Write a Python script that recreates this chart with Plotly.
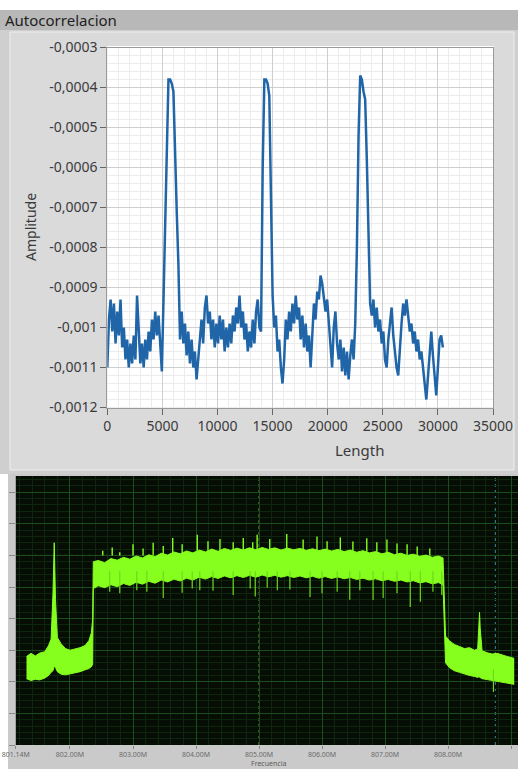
import plotly.graph_objects as go

W, H = 518, 769

# ---------------- Autocorrelation (top chart) ----------------
lag_step = 150  # sample spacing of the trace (Length units)
amplitude = [
    -0.00110, -0.00098, -0.00093, -0.00101, -0.00094, -0.00104, -0.00096, -0.00102, -0.00093, -0.00105,
    -0.00100, -0.00108, -0.00103, -0.00110, -0.00104, -0.00109, -0.00102, -0.00108, -0.00092, -0.00101,
    -0.00109, -0.00104, -0.00110, -0.00103, -0.00108, -0.00101, -0.00106, -0.00098, -0.00103, -0.00096,
    -0.00102, -0.00097, -0.00104, -0.00111,
    -0.00093, -0.00075, -0.00052, -0.00038, -0.00038, -0.00039, -0.00041, -0.00060, -0.00071, -0.00084, -0.00103,
    -0.00096, -0.00104, -0.00099, -0.00107, -0.00101, -0.00109, -0.00103, -0.00110, -0.00106, -0.00113, -0.00108, -0.00102,
    -0.00098, -0.00104, -0.00095, -0.00092, -0.00099, -0.00096, -0.00103, -0.00098, -0.00105,
    -0.00099, -0.00104, -0.00097, -0.00103, -0.00098, -0.00106, -0.00100, -0.00105, -0.00099, -0.00104, -0.00097,
    -0.00101, -0.00095, -0.00099, -0.00092, -0.00100, -0.00096, -0.00103,
    -0.00099, -0.00106, -0.00101, -0.00105, -0.00098, -0.00104, -0.00096,
    -0.00093, -0.00100, -0.00101,
    -0.00060, -0.00038, -0.00038, -0.00039, -0.00042, -0.00070, -0.00092,
    -0.00100, -0.00097, -0.00106, -0.00103, -0.00110, -0.00114, -0.00108, -0.00098,
    -0.00103, -0.00096, -0.00101, -0.00094, -0.00099, -0.00092, -0.00098,
    -0.00095, -0.00103, -0.00097, -0.00105, -0.00099, -0.00106, -0.00102, -0.00110,
    -0.00100, -0.00094, -0.00098, -0.00091, -0.00093, -0.00087, -0.00089, -0.00092, -0.00096, -0.00093, -0.00099,
    -0.00104, -0.00110, -0.00100,
    -0.00096, -0.00104, -0.00108, -0.00103, -0.00111, -0.00105, -0.00112, -0.00106, -0.00113, -0.00107, -0.00103,
    -0.00108, -0.00099, -0.00080, -0.00052, -0.00037, -0.00038, -0.00041, -0.00043, -0.00058, -0.00078, -0.00094,
    -0.00097, -0.00093, -0.00100, -0.00095, -0.00101,
    -0.00098, -0.00104, -0.00101, -0.00108, -0.00110,
    -0.00103, -0.00099, -0.00095, -0.00102,
    -0.00107, -0.00110, -0.00112, -0.00104,
    -0.00099, -0.00094, -0.00097, -0.00093, -0.00098,
    -0.00101, -0.00099, -0.00104, -0.00101, -0.00106, -0.00103, -0.00108,
    -0.00106, -0.00111, -0.00114, -0.00118, -0.00112,
    -0.00105, -0.00101, -0.00107,
    -0.00113, -0.00117, -0.00110,
    -0.00103, -0.00102, -0.00105,
]
lag = [i * lag_step for i in range(len(amplitude))]

acf_x_ticks = [0, 5000, 10000, 15000, 20000, 25000, 30000, 35000]
acf_x_labels = ["0", "5000", "10000", "15000", "20000", "25000", "30000", "35000"]
acf_y_ticks = [-0.0003, -0.0004, -0.0005, -0.0006, -0.0007, -0.0008, -0.0009, -0.0010, -0.0011, -0.0012]
acf_y_labels = ["-0,0003", "-0,0004", "-0,0005", "-0,0006", "-0,0007", "-0,0008", "-0,0009",
                "-0,001", "-0,0011", "-0,0012"]

# ---------------- Spectrum (bottom screen) ----------------
freq_mhz = [
    801.31, 801.38, 801.45, 801.52, 801.60, 801.66, 801.70, 801.73, 801.75, 801.77,
    801.80, 801.86, 801.93, 802.00, 802.08, 802.16, 802.24, 802.30, 802.34, 802.36,
    802.37, 802.45, 802.55, 802.65, 802.75, 802.85, 802.95, 803.05, 803.15, 803.25,
    803.35, 803.45, 803.55, 803.65, 803.75, 803.85, 803.95, 804.05, 804.15, 804.25,
    804.35, 804.45, 804.55, 804.65, 804.75, 804.85, 804.95, 805.05, 805.15, 805.25,
    805.35, 805.45, 805.55, 805.65, 805.75, 805.85, 805.95, 806.05, 806.15, 806.25,
    806.35, 806.45, 806.55, 806.65, 806.75, 806.85, 806.95, 807.05, 807.15, 807.25,
    807.35, 807.45, 807.55, 807.65, 807.75, 807.85, 807.92,
    807.94, 807.96, 808.02, 808.10, 808.18, 808.26, 808.34, 808.42, 808.47, 808.49,
    808.50, 808.51, 808.54, 808.62, 808.70, 808.78, 808.86, 808.94, 809.02, 809.05,
]
upper_db = [
    -82.0, -81.0, -81.8, -80.9, -80.5, -78.5, -76.5, -62.0, -46.0, -64.0,
    -76.0, -78.0, -79.5, -80.0, -79.6, -79.2, -78.5, -77.0, -74.5, -70.0,
    -52.0, -51.6, -52.3, -51.0, -51.5, -50.6, -51.2, -50.2, -50.8, -49.8,
    -50.4, -49.3, -49.9, -48.9, -49.5, -48.6, -49.2, -48.3, -48.9, -48.0,
    -48.7, -47.8, -48.4, -47.7, -48.3, -47.6, -48.2, -47.5, -48.1, -47.6,
    -48.3, -47.7, -48.2, -47.8, -48.4, -47.9, -48.5, -48.0, -48.6, -48.1,
    -48.8, -48.3, -49.0, -48.5, -49.2, -48.8, -49.5, -49.0, -49.8, -49.3,
    -50.0, -49.6, -50.3, -49.9, -50.6, -50.2, -50.8,
    -62.0, -75.5, -77.0, -78.2, -78.8, -79.5, -79.2, -80.0, -79.6, -72.0,
    -68.0, -73.0, -80.2, -80.8, -81.2, -81.0, -81.6, -82.0, -82.4, -82.6,
]
lower_db = [
    -89.0, -89.6, -89.2, -89.4, -88.8, -88.0, -87.0, -86.5, -85.0, -85.5,
    -86.8, -87.6, -87.8, -87.5, -87.0, -86.8, -86.2, -85.8, -85.2, -84.5,
    -60.5, -59.6, -60.2, -59.3, -59.9, -58.9, -59.5, -58.5, -59.1, -58.2,
    -58.8, -57.8, -58.4, -57.5, -58.1, -57.2, -57.8, -56.9, -57.5, -56.7,
    -57.3, -56.5, -57.1, -56.4, -57.0, -56.3, -56.9, -56.2, -56.8, -56.3,
    -56.9, -56.4, -57.0, -56.5, -57.1, -56.6, -57.2, -56.7, -57.3, -56.8,
    -57.4, -57.0, -57.6, -57.2, -57.8, -57.4, -58.0, -57.6, -58.2, -57.8,
    -58.4, -58.0, -58.7, -58.3, -59.0, -58.6, -59.3,
    -76.0, -84.0, -85.5, -86.5, -87.0, -87.6, -88.0, -88.3, -88.6, -88.4,
    -88.5, -88.6, -89.0, -89.3, -89.6, -89.9, -90.2, -90.4, -90.6, -90.8,
]
# short upward noise spikes on top of the occupied band
spike_freq = [802.52, 802.67, 802.79, 803.00, 803.16, 803.32, 803.48, 803.63, 803.78, 804.02,
              804.19, 804.38, 804.59, 804.75, 804.90, 804.97, 805.17, 805.44, 805.70, 805.92,
              806.08, 806.29, 806.49, 806.71, 806.87, 807.03, 807.19, 807.35, 807.51, 807.71]
spike_db = [-48.5, -47.5, -49.0, -46.5, -47.8, -46.0, -47.0, -44.5, -46.5, -43.5,
            -45.5, -44.8, -45.8, -44.5, -45.8, -43.5, -44.8, -43.2, -45.0, -44.0,
            -45.5, -44.3, -45.6, -44.6, -45.8, -45.0, -46.2, -46.5, -47.2, -47.8]
# downward dips
dip_freq = [802.63, 802.79, 803.06, 803.22, 803.48, 803.78, 803.94, 804.06, 804.27, 804.59,
            804.86, 804.94, 805.13, 805.29, 805.49, 805.81, 806.00, 806.24, 806.44, 806.60,
            806.81, 806.97, 807.19, 807.40, 807.56, 807.76, 807.90, 808.72]
dip_from_db = [-55.0] * 27 + [-86.0]
dip_db = [-61.5, -62.0, -61.0, -61.5, -63.5, -61.8, -60.5, -61.0, -61.2, -62.5,
          -60.5, -63.0, -60.2, -61.0, -60.8, -63.2, -62.0, -61.5, -64.0, -61.0,
          -64.1, -63.5, -62.0, -66.3, -64.7, -61.5, -62.5, -93.2]

spec_ticks = [801.14, 802, 803, 804, 805, 806, 807, 808, 809]
spec_labels = ["801.14M", "802.00M", "803.00M", "804.00M", "805.00M", "806.00M",
               "807.00M", "808.00M", "809.00M"]
spec_level_ticks = [-110, -100, -90, -80, -70, -60, -50, -40, -30]
center_freq = 805.0
marker_freq = 808.75
ref_level_db = -50


def px_x(p):
    return p / W


def px_y(p):
    return 1 - p / H


def rect(x0, y0, x1, y1, fill, line_color=None, lw=0):
    return dict(type="rect", xref="paper", yref="paper", layer="below",
                x0=px_x(x0), x1=px_x(x1), y0=px_y(y1), y1=px_y(y0),
                fillcolor=fill, line=dict(width=lw, color=line_color or fill))


fig = go.Figure()

fig.add_trace(go.Scatter(x=lag, y=amplitude, mode="lines", xaxis="x", yaxis="y",
                         line=dict(color="#1f65a8", width=2.5), showlegend=False,
                         hoverinfo="skip"))

LIME = "#86ff1e"
fig.add_trace(go.Scatter(x=freq_mhz, y=lower_db, mode="lines", xaxis="x2", yaxis="y2",
                         line=dict(color=LIME, width=1), showlegend=False, hoverinfo="skip"))
fig.add_trace(go.Scatter(x=freq_mhz, y=upper_db, mode="lines", xaxis="x2", yaxis="y2",
                         fill="tonexty", fillcolor=LIME,
                         line=dict(color=LIME, width=1), showlegend=False, hoverinfo="skip"))

sx, sy = [], []
for f, lvl in zip(spike_freq, spike_db):
    sx += [f, f, None]
    sy += [-50.0, lvl, None]
fig.add_trace(go.Scatter(x=sx, y=sy, mode="lines", xaxis="x2", yaxis="y2",
                         line=dict(color=LIME, width=1.4), showlegend=False, hoverinfo="skip"))
dx, dy = [], []
for f, a, b in zip(dip_freq, dip_from_db, dip_db):
    dx += [f, f, None]
    dy += [a, b, None]
fig.add_trace(go.Scatter(x=dx, y=dy, mode="lines", xaxis="x2", yaxis="y2",
                         line=dict(color="#6fd81c", width=1.2), showlegend=False, hoverinfo="skip"))

shapes = [
    rect(0, 10, 518, 30, "#b8b8b8"),
    rect(0, 30, 518, 474, "#cfcfcf"),
    rect(10, 32, 514, 470, "#dadada", "#eeeeee", 1),
    rect(107.3, 46, 494, 407.5, "#ffffff"),
    rect(8, 474, 518, 769, "#cacaca"),
    rect(15.8, 476, 518, 745, "#050d05"),
    dict(type="line", xref="x2", yref="y2", layer="below", x0=center_freq, x1=center_freq,
         y0=-110, y1=-24.87, line=dict(color="#8d9b32", width=1, dash="dot")),
    dict(type="line", xref="x2", yref="y2", layer="below", x0=marker_freq, x1=marker_freq,
         y0=-110, y1=-24.87, line=dict(color="#3f8a97", width=1, dash="dot")),
    dict(type="line", xref="x2", yref="y2", layer="below", x0=801.14, x1=809.11,
         y0=ref_level_db, y1=ref_level_db, line=dict(color="#7f8f2a", width=1, dash="dot")),
]

FONT = "Noto Sans"
fig.update_layout(
    width=W, height=H, margin=dict(l=0, r=0, t=0, b=0, autoexpand=False),
    paper_bgcolor="#ffffff", plot_bgcolor="rgba(0,0,0,0)",
    font=dict(family=FONT, color="#3a3a3a"),
    showlegend=False, shapes=shapes,
    xaxis=dict(domain=[px_x(107.3), px_x(493)], range=[0, 35000], anchor="y", automargin=False,
               tickmode="array", tickvals=acf_x_ticks, ticktext=acf_x_labels,
               ticks="outside", ticklen=6, tickcolor="#666", tickfont=dict(size=14, color="#3a3a3a"),
               showline=True, linecolor="#9a9a9a", mirror=True,
               showgrid=True, gridcolor="#cfcfcf", zeroline=False,
               minor=dict(dtick=1000, tick0=0, showgrid=True, gridcolor="#ececec")),
    yaxis=dict(domain=[px_y(407.5), px_y(47.5)], range=[-0.0012, -0.0003], anchor="x", automargin=False,
               tickmode="array", tickvals=acf_y_ticks, ticktext=acf_y_labels,
               ticks="outside", ticklen=6, tickcolor="#666", tickfont=dict(size=14, color="#3a3a3a"),
               showline=True, linecolor="#9a9a9a", mirror=True,
               showgrid=True, gridcolor="#cfcfcf", zeroline=False,
               minor=dict(dtick=0.00002, tick0=0, showgrid=True, gridcolor="#ececec")),
    xaxis2=dict(domain=[px_x(15.8), 1.0], range=[801.14, 809.11], anchor="y2", automargin=False,
                tickmode="array", tickvals=spec_ticks, ticktext=spec_labels,
                ticks="outside", ticklen=3, tickcolor="#888", tickfont=dict(size=7, color="#6a6a6a"),
                ticklabelstandoff=0,
                showline=False, showgrid=True, gridcolor="#1c4d1c", gridwidth=1, zeroline=False,
                minor=dict(dtick=0.2, tick0=802, showgrid=True, gridcolor="#0d260d")),
    yaxis2=dict(domain=[px_y(745), px_y(476)], range=[-110, -24.87], anchor="x2", automargin=False,
                tickmode="array", tickvals=spec_level_ticks, showticklabels=False,
                ticks="outside", ticklen=6, tickcolor="#8a8a8a",
                showline=False, showgrid=True, gridcolor="#1c4d1c", zeroline=False,
                minor=dict(dtick=2, tick0=-110, showgrid=True, gridcolor="#0d260d")),
    annotations=[
        dict(text="Autocorrelacion", xref="paper", yref="paper", x=px_x(3), y=px_y(20),
             xanchor="left", yanchor="middle", showarrow=False,
             font=dict(size=15, color="#1e1e1e", family=FONT)),
        dict(text="Amplitude", xref="paper", yref="paper", x=px_x(30), y=px_y(227),
             textangle=-90, xanchor="center", yanchor="middle", showarrow=False,
             font=dict(size=14, color="#3a3a3a", family=FONT)),
        dict(text="Length", xref="paper", yref="paper", x=px_x(360), y=px_y(450),
             xanchor="center", yanchor="middle", showarrow=False,
             font=dict(size=15, color="#3a3a3a", family=FONT)),
        dict(text="Frecuencia", xref="paper", yref="paper", x=px_x(268), y=px_y(768.5),
             xanchor="center", yanchor="bottom", showarrow=False, borderpad=0,
             font=dict(size=7, color="#5a5a5a", family=FONT)),
    ],
)

fig.write_html("out.html", config={"displayModeBar": False},
               post_script="document.body.style.margin='0';")
